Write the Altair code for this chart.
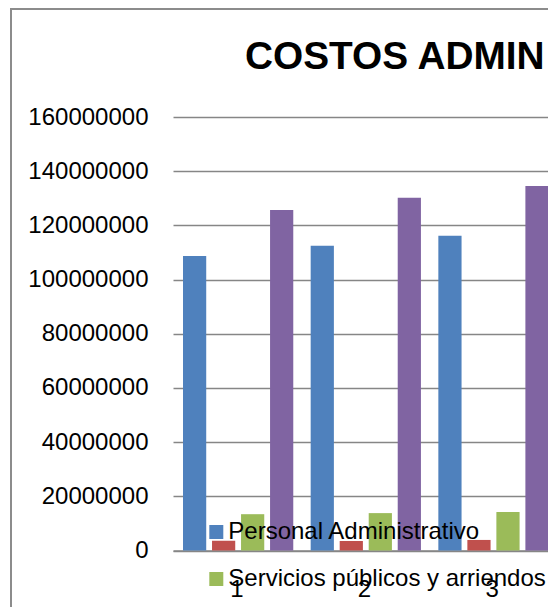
import altair as alt
import pandas as pd

categories = ["1", "2", "3"]
series = ["Personal Administrativo", "Útiles y papelería",
          "Servicios públicos y arriendos", "Total"]
personal = [108.7e6, 112.5e6, 116.2e6]
papeleria = [3.6e6, 3.5e6, 3.9e6]
servicios = [13.4e6, 13.8e6, 14.2e6]
total = [125.7e6, 130.2e6, 134.5e6]
colors = ["#4f81bd", "#c0504d", "#9bbb59", "#8064a2"]
y_ticks = [0, 20000000, 40000000, 60000000, 80000000,
           100000000, 120000000, 140000000, 160000000]
legend_shown = ["Personal Administrativo", "Servicios públicos y arriendos"]
title_text = "COSTOS ADMINISTRATIVOS"

rows = []
for s, vals in zip(series, [personal, papeleria, servicios, total]):
    for c, v in zip(categories, vals):
        rows.append({"categoria": c, "serie": s, "valor": v})
df = pd.DataFrame(rows)

FONT = "Liberation Sans"
W = 375          # visible plot width (page edge)
BAND_RANGE = 383  # full band range of the category axis
H = 433.5
GRID = "#868686"

bars = alt.Chart(df).mark_bar().encode(
    x=alt.X("categoria:N", sort=categories,
            scale=alt.Scale(paddingInner=0, paddingOuter=0, range=[0, BAND_RANGE]),
            axis=alt.Axis(title=None, labelAngle=0, ticks=False, labelPadding=27,
                          domainColor=GRID, domainWidth=1.5, labelFont=FONT,
                          labelFontSize=24, labelColor="#000000", grid=False)),
    xOffset=alt.XOffset("serie:N", sort=series,
                        scale=alt.Scale(paddingInner=0.2, paddingOuter=0.3, align=0.575)),
    y=alt.Y("valor:Q", scale=alt.Scale(domain=[0, 160000000], nice=False),
            axis=alt.Axis(values=y_ticks, format="d", title=None, domain=False,
                          ticks=False, labelPadding=25, gridColor=GRID, gridWidth=1.3,
                          labelFont=FONT, labelFontSize=24, labelColor="#000000")),
    color=alt.Color("serie:N", sort=series,
                    scale=alt.Scale(domain=series, range=colors),
                    legend=alt.Legend(values=legend_shown, orient="none",
                                      legendX=31.3, legendY=403, title=None,
                                      symbolType="square", symbolSize=196,
                                      symbolStrokeWidth=0, symbolOpacity=1,
                                      labelFont=FONT, labelFontSize=24,
                                      labelColor="#000000", labelOffset=0,
                                      rowPadding=23, padding=0,
                                      direction="vertical", columns=1, labelLimit=0)),
)

title = alt.Chart(alt.Data(values=[{"t": title_text}])).mark_text(
    align="left", baseline="alphabetic", font=FONT, fontWeight="bold",
    fontSize=38.8, limit=309, ellipsis="\u200b", color="#000000"
).encode(text="t:N", x=alt.value(72), y=alt.value(-48))

frame_left = alt.Chart(alt.Data(values=[{"a": 1}])).mark_rule(
    color="#8c8c8c", strokeWidth=2
).encode(x=alt.value(-162), y=alt.value(-108), y2=alt.value(495))

frame_top = alt.Chart(alt.Data(values=[{"a": 1}])).mark_rule(
    color="#8c8c8c", strokeWidth=2
).encode(x=alt.value(-163), x2=alt.value(W), y=alt.value(-108))

chart = alt.layer(frame_left, frame_top, title, bars).properties(
    width=W, height=H,
    padding={"left": 165, "top": 109, "right": 0, "bottom": 56.5},
    autosize=alt.AutoSizeParams(type="none"),
    background="white",
).configure_view(stroke=None)

chart.save("out.html", embed_options={"renderer": "svg", "actions": False})
